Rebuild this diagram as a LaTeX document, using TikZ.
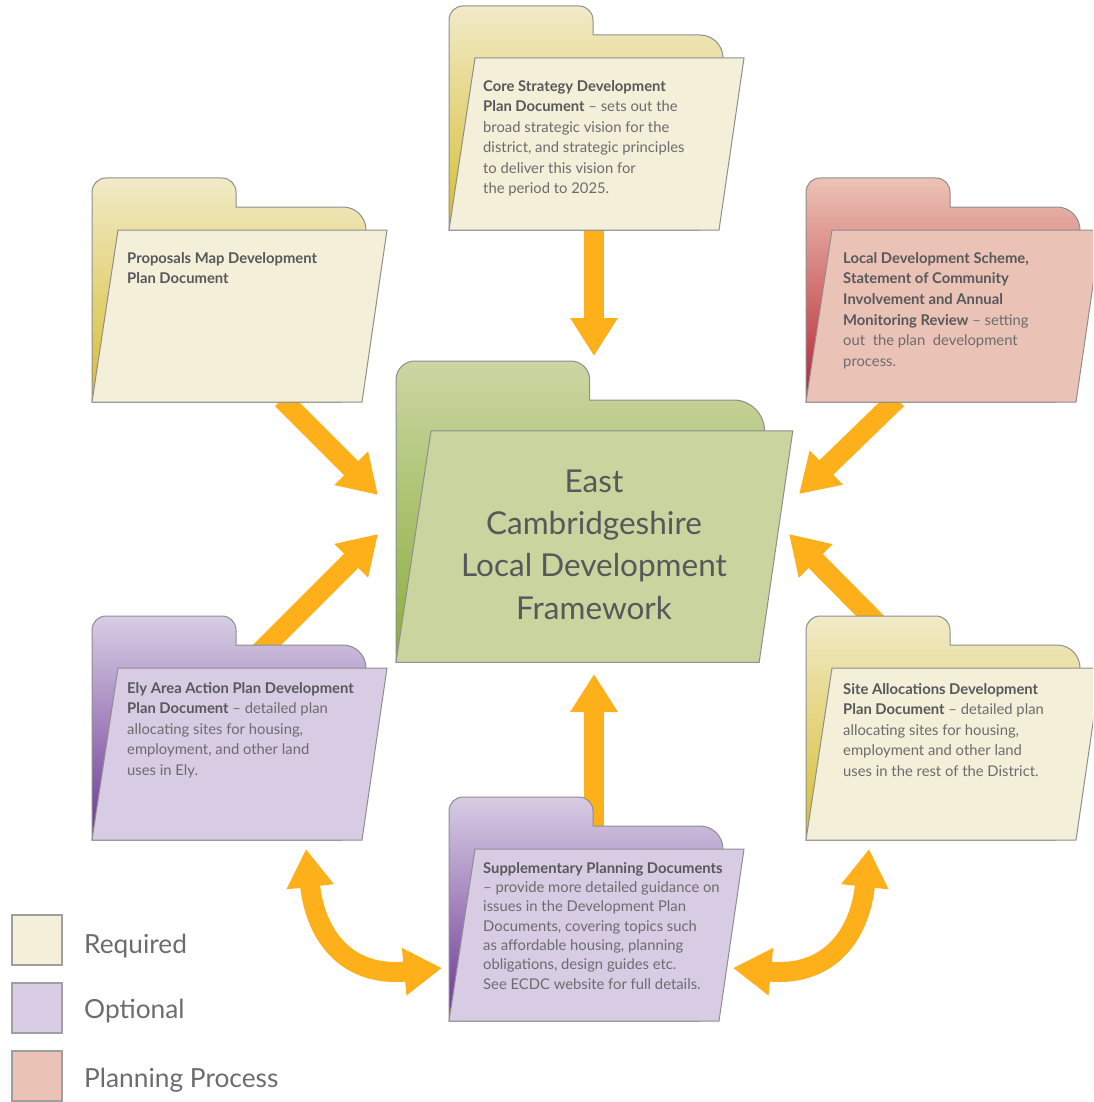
\documentclass[tikz,border=0pt]{standalone}
\usepackage{fontspec}
\setmainfont{Lato}
\usetikzlibrary{arrows.meta}

\definecolor{reqfront}{HTML}{F4EFD9}
\definecolor{reqtop}{HTML}{F1EAC8}
\definecolor{reqbot}{HTML}{D6BD2E}
\definecolor{optfront}{HTML}{D8CCE4}
\definecolor{opttop}{HTML}{D8CDE4}
\definecolor{optbot}{HTML}{6A3494}
\definecolor{plafront}{HTML}{EBC3B6}
\definecolor{platop}{HTML}{ECC3B5}
\definecolor{plabot}{HTML}{B8202E}
\definecolor{ldffront}{HTML}{C9D49E}
\definecolor{ldftop}{HTML}{CBD6A3}
\definecolor{ldfbot}{HTML}{8AAE3A}
\definecolor{edgegray}{HTML}{8E8E8E}
\definecolor{arroworange}{HTML}{FDB01A}
\definecolor{textdark}{HTML}{58585A}
\definecolor{textgray}{HTML}{6C6C6E}

\newcommand{\hd}[1]{{\bfseries\color{textdark}#1}}

% folder: x, y of top left, scale, colour set
\newcommand{\docfolder}[4]{%
  \begin{scope}[shift={(#1,#2)},scale=#3]
    \draw[folderline,top color=#4top,bottom color=#4bot]
      (0,224) -- (0,14) arc[start angle=180,end angle=270,radius=14] -- (130,0)
      arc[start angle=270,end angle=360,radius=14] -- (144,29) -- (251,29)
      arc[start angle=270,end angle=360,radius=23] -- (262,140) -- (250,224) -- cycle;
    \draw[folderline,fill=#4front] (26,52) -- (295,52) -- (270,224) -- (0,224) -- cycle;
  \end{scope}}

\tikzset{
  folderline/.style={draw=edgegray,line width=1pt},
  bigarrow/.style={arroworange,line width=20pt,-{Triangle[length=38pt,width=45pt]}},
  bothways/.style={arroworange,line width=20pt,
    {Triangle[length=38pt,width=45pt]}-{Triangle[length=38pt,width=45pt]}},
  doctext/.style={anchor=base west,inner sep=0pt,align=left,text=textgray,
    font=\fontsize{14.8}{20.5}\selectfont},
  keybox/.style={draw=edgegray!85,line width=2pt,minimum size=50pt,inner sep=0pt},
  keytext/.style={anchor=base west,inner sep=0pt,text=textgray,font=\fontsize{26.3}{30}\selectfont}
}

\begin{document}
\begin{tikzpicture}[x=1pt,y=-1pt]
  \useasboundingbox (0,0) rectangle (1093,1102);
  \clip (0,0) rectangle (1093,1102);

  % arrow ends
  \coordinate (coreS) at (594,228);
  \coordinate (ldfN) at (594,356);
  \coordinate (propS) at (282,399);
  \coordinate (ldfNW) at (378,495);
  \coordinate (ldsS) at (897,399);
  \coordinate (ldfNE) at (799,494);
  \coordinate (elyN) at (260,652);
  \coordinate (ldfSW) at (378,534);
  \coordinate (siteN) at (884,630);
  \coordinate (ldfSE) at (789,534);
  \coordinate (spdN) at (594,840);
  \coordinate (ldfS) at (594,674);
  \coordinate (elyS) at (306,849);
  \coordinate (spdW) at (442,968);
  \coordinate (siteS) at (869,849);
  \coordinate (spdE) at (733,968);

  \draw[bigarrow] (coreS) -- (ldfN);
  \draw[bigarrow] (propS) -- (ldfNW);
  \draw[bigarrow] (ldsS) -- (ldfNE);
  \draw[bigarrow] (elyN) -- (ldfSW);
  \draw[bigarrow] (siteN) -- (ldfSE);
  \draw[bigarrow] (spdN) -- (ldfS);
  \draw[bothways] (elyS) .. controls (316,940) and (350,977) .. (spdW);
  \draw[bothways] (siteS) .. controls (859,940) and (825,977) .. (spdE);

  % folders
  \docfolder{449}{6}{1}{req}
  \docfolder{92}{178}{1}{req}
  \docfolder{806}{178}{1}{pla}
  \docfolder{92}{616}{1}{opt}
  \docfolder{806}{616}{1}{req}
  \docfolder{449}{797}{1}{opt}
  \docfolder{396}{361}{1.345}{ldf}

  % texts, placed at the baseline of their last line
  \node[doctext] (core) at (483,193.5) {\hd{Core Strategy Development}\\
    \hd{Plan Document} -- sets out the\\ broad strategic vision for the\\
    district, and strategic principles\\ to deliver this vision for\\ the period to 2025.};
  \node[doctext] (prop) at (127,283.5) {\hd{Proposals Map Development}\\ \hd{Plan Document}};
  \node[doctext,font=\fontsize{14.8}{20.7}\selectfont] (lds) at (843,366.5)
    {\hd{Local Development Scheme,}\\
    \hd{Statement of Community}\\ \hd{Involvement and Annual}\\
    \hd{Monitoring Review} -- setting\\ out\ \ the plan\ \ development\\ process.};
  \node[doctext] (ely) at (127,775) {\hd{Ely Area Action Plan Development}\\
    \hd{Plan Document} -- detailed plan\\ allocating sites for housing,\\
    employment, and other land\\ uses in Ely.};
  \node[doctext] (site) at (843,776) {\hd{Site Allocations Development}\\
    \hd{Plan Document} -- detailed plan\\ allocating sites for housing,\\
    employment and other land\\ uses in the rest of the District.};
  \node[doctext,font=\fontsize{14.8}{19.3}\selectfont] (spd) at (483,989)
    {\hd{Supplementary Planning Documents}\\ -- provide more detailed guidance on\\
    issues in the Development Plan\\ Documents, covering topics such\\
    as affordable housing, planning\\ obligations, design guides etc.\\
    See ECDC website for full details.};
  \node[anchor=base,inner sep=0pt,align=center,text=textdark,
    font=\fontsize{31.5}{42.3}\selectfont] (ldf) at (594,619)
    {East\\ Cambridgeshire\\ Local Development\\ Framework};

  % key
  \node[keybox,fill=reqfront] (keyreq) at (37,940) {};
  \node[keybox,fill=optfront] (keyopt) at (37,1008) {};
  \node[keybox,fill=plafront] (keypla) at (37,1076) {};
  \node[keytext] (reqlabel) at (84,953) {Required};
  \node[keytext] (optlabel) at (84,1018) {Optional};
  \node[keytext] (plalabel) at (84,1087) {Planning Process};
\end{tikzpicture}
\end{document}
